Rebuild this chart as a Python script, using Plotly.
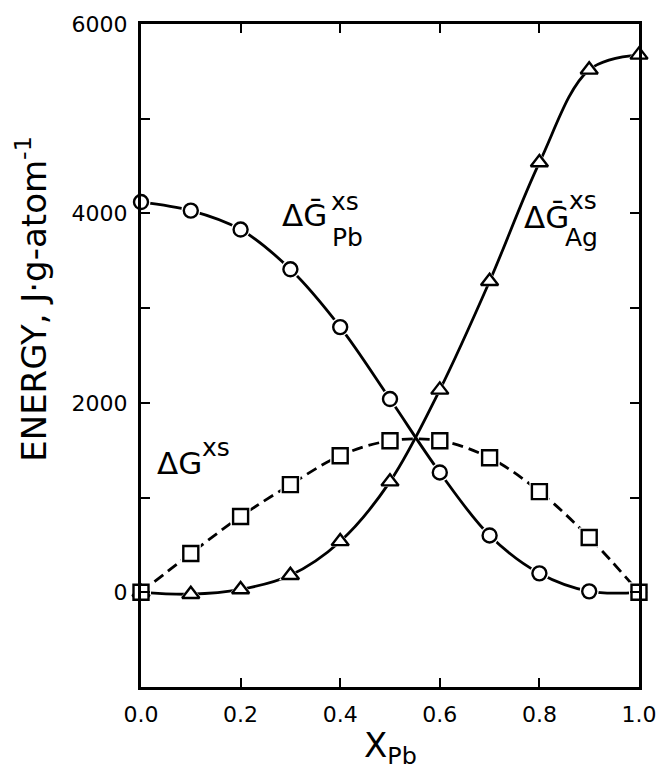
import plotly.graph_objects as go

# Composition (mole fraction of Pb)
x_pb = [0.0, 0.1, 0.2, 0.3, 0.4, 0.5, 0.6, 0.7, 0.8, 0.9, 1.0]

# Partial excess Gibbs energy of Pb (circles), J/g-atom
g_pb = [4120, 4030, 3830, 3410, 2800, 2040, 1265, 600, 200, 10, 0]
# Partial excess Gibbs energy of Ag (triangles), J/g-atom
g_ag = [0, -20, 30, 180, 537, 1168, 2137, 3284, 4537, 5516, 5674]
# Integral excess Gibbs energy (squares), J/g-atom
g_xs = [0, 410, 800, 1137, 1442, 1600, 1600, 1421, 1063, 579, 0]

y_ticks = [0, 2000, 4000, 6000]
y_tick_text = ["0", "2000", "4000", "6000"]
y_minor_ticks = [1000, 3000, 5000]
x_ticks = [0.0, 0.2, 0.4, 0.6, 0.8, 1.0]
x_tick_text = ["0.0", "0.2", "0.4", "0.6", "0.8", "1.0"]

INK = "black"
FONT = "DejaVu Sans"

fig = go.Figure()

# smooth curves
for ys, dash in [(g_pb, "solid"), (g_ag, "solid"), (g_xs, "11px,6px")]:
    fig.add_trace(go.Scatter(
        x=x_pb, y=ys, mode="lines",
        line=dict(color=INK, width=2.8, shape="spline", smoothing=1.0, dash=dash),
        hoverinfo="skip", cliponaxis=False,
    ))

# white halos so the curves stop short of each symbol
for ys, sym, size in [(g_pb, "circle", 14), (g_ag, "triangle-up", 15), (g_xs, "square", 15)]:
    fig.add_trace(go.Scatter(
        x=x_pb, y=ys, mode="markers",
        marker=dict(symbol=sym, size=size + 5, color="white", line=dict(width=0)),
        hoverinfo="skip", cliponaxis=False,
    ))

# open symbols
for ys, sym, size in [(g_pb, "circle", 14), (g_ag, "triangle-up", 15), (g_xs, "square", 15)]:
    fig.add_trace(go.Scatter(
        x=x_pb, y=ys, mode="markers",
        marker=dict(symbol=sym, size=size, color="white", line=dict(color=INK, width=2.4)),
        cliponaxis=False,
    ))

axis_common = dict(
    showline=True, linecolor=INK, linewidth=3, mirror="ticks",
    ticks="inside", ticklen=9, tickwidth=2.4, tickcolor=INK,
    showgrid=False, zeroline=False,
    tickfont=dict(family=FONT, size=22, color=INK),
)

fig.update_xaxes(range=[0, 1.0], tickvals=x_ticks, ticktext=x_tick_text,
                 ticklabelstandoff=6, **axis_common)
fig.update_yaxes(range=[-1000, 6000], tickvals=y_ticks, ticktext=y_tick_text,
                 ticklabelstandoff=6,
                 minor=dict(tickvals=y_minor_ticks, ticks="inside", ticklen=9,
                            tickwidth=2.4, tickcolor=INK, showgrid=False),
                 **axis_common)

# curve labels
def label(x, y, text, size):
    fig.add_annotation(x=x, y=y, xref="x", yref="y", text=text, showarrow=False,
                       xanchor="center", yanchor="middle",
                       font=dict(family=FONT, size=size, color=INK))

label(0.328, 3980, "\u0394G\u0304", 31)
label(0.410, 4130, "xs", 25)
label(0.415, 3747, "Pb", 25)

label(0.815, 3958, "\u0394G\u0304", 31)
label(0.888, 4140, "xs", 25)
label(0.884, 3747, "Ag", 25)

label(0.078, 1368, "\u0394G", 31)
label(0.150, 1526, "xs", 25)

# axis titles
fig.add_annotation(x=-0.2196, y=0.585, xref="paper", yref="paper",
                   text="ENERGY, J\u00b7g-atom<sup>-1</sup>", textangle=-90,
                   showarrow=False, xanchor="center", yanchor="middle",
                   font=dict(family=FONT, size=34, color=INK))
fig.add_annotation(x=0.5, y=-0.092, xref="paper", yref="paper",
                   text="X<sub>Pb</sub>", showarrow=False,
                   xanchor="center", yanchor="middle",
                   font=dict(family=FONT, size=34, color=INK))

fig.update_layout(
    width=669, height=769,
    margin=dict(l=141, r=27, t=22, b=82),
    paper_bgcolor="white", plot_bgcolor="white",
    showlegend=False,
)

fig.write_html("out.html")
